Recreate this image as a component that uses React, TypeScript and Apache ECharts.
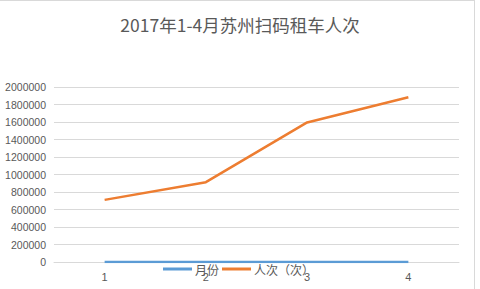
import React, { useEffect, useRef } from "react";
import * as echarts from "echarts";

const months = ["1", "2", "3", "4"];
const monthSeries = [1, 2, 3, 4];
const riders = [710000, 912000, 1595000, 1882000];
const yTicks = { min: 0, max: 2000000, interval: 200000 };

export default function App() {
  const ref = useRef<HTMLDivElement>(null);

  useEffect(() => {
    document.body.style.margin = "0";
    const chart = echarts.init(ref.current!, undefined, { renderer: "svg" });
    const textColor = "#595959";
    const gridColor = "#d9d9d9";
    chart.setOption({
      animation: false,
      backgroundColor: "#ffffff",
      title: {
        text: "2017年1-4月苏州扫码租车人次",
        left: "center",
        top: 11,
        textStyle: {
          fontFamily: "Noto Sans CJK SC",
          fontWeight: "normal",
          fontSize: 17.5,
          color: textColor,
        },
      },
      grid: { left: 54, right: 21, top: 87, bottom: 27 },
      xAxis: {
        type: "category",
        data: months,
        boundaryGap: true,
        axisLine: { lineStyle: { color: gridColor, width: 1 } },
        axisTick: { show: false },
        axisLabel: {
          color: textColor,
          fontFamily: "Liberation Sans",
          fontSize: 11,
          margin: 9,
        },
      },
      yAxis: {
        type: "value",
        min: yTicks.min,
        max: yTicks.max,
        interval: yTicks.interval,
        axisLine: { show: false },
        axisTick: { show: false },
        splitLine: { lineStyle: { color: gridColor, width: 1 } },
        axisLabel: {
          color: textColor,
          fontFamily: "Liberation Sans",
          fontSize: 10.5,
          margin: 8,
          formatter: (v: number) => String(v),
        },
      },
      legend: {
        left: 163,
        top: 263,
        padding: 0,
        itemGap: 3,
        itemWidth: 29,
        itemHeight: 3,
        icon: "rect",
        textStyle: {
          color: textColor,
          fontFamily: "Noto Sans CJK SC",
          fontSize: 12,
          padding: [0, 0, 0, -2],
        },
        data: ["月份", "人次（次）"],
      },
      series: [
        {
          name: "月份",
          type: "line",
          data: monthSeries,
          symbol: "none",
          lineStyle: { color: "#5B9BD5", width: 2.5 },
          itemStyle: { color: "#5B9BD5" },
        },
        {
          name: "人次（次）",
          type: "line",
          data: riders,
          symbol: "none",
          lineStyle: { color: "#ED7D31", width: 2.5 },
          itemStyle: { color: "#ED7D31" },
        },
      ],
      graphic: [
        {
          type: "line",
          shape: { x1: 0, y1: 0.5, x2: 474.5, y2: 0.5 },
          style: { stroke: "#d9d9d9", lineWidth: 1 },
        },
        {
          type: "line",
          shape: { x1: 474.5, y1: 0, x2: 474.5, y2: 289 },
          style: { stroke: "#d9d9d9", lineWidth: 1 },
        },
      ],
    });
    return () => chart.dispose();
  }, []);

  return <div ref={ref} style={{ width: 480, height: 289 }} />;
}
